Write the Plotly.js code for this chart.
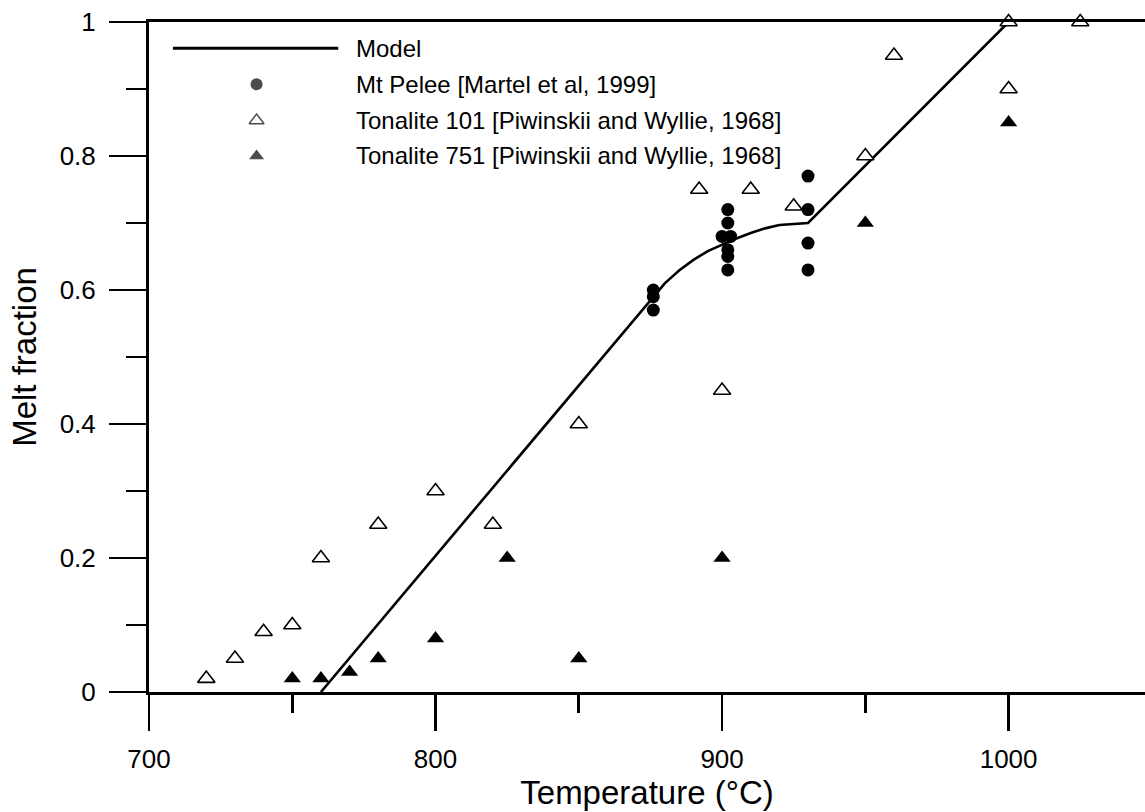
<!DOCTYPE html>
<html><head><meta charset="utf-8">
<script src="https://cdn.plot.ly/plotly-3.0.1.min.js"></script>
<style>html,body{margin:0;padding:0;background:#fff}</style>
</head><body><div id="chart" style="width:1145px;height:812px"></div>
<script>
// ---- data ----
const modelT = [760, 880, 885, 890, 895, 900, 905, 910, 915, 920, 925, 930, 1000];
const modelF = [0, 0.61, 0.629, 0.645, 0.658, 0.668, 0.677, 0.685, 0.692, 0.697, 0.699, 0.70, 1.0];

const peleeT = [876, 876, 876, 900, 902, 902, 903, 902, 902, 902, 930, 930, 930, 930];
const peleeF = [0.60, 0.59, 0.57, 0.68, 0.72, 0.70, 0.68, 0.66, 0.65, 0.63, 0.77, 0.72, 0.67, 0.63];

const ton101T = [720, 730, 740, 750, 760, 780, 800, 820, 850, 892, 900, 910, 925, 950, 960, 1000, 1000, 1025];
const ton101F = [0.02, 0.05, 0.09, 0.10, 0.20, 0.25, 0.30, 0.25, 0.40, 0.75, 0.45, 0.75, 0.725, 0.80, 0.95, 1.0, 0.90, 1.0];

const ton751T = [750, 760, 770, 780, 800, 825, 850, 900, 950, 1000];
const ton751F = [0.02, 0.02, 0.03, 0.05, 0.08, 0.20, 0.05, 0.20, 0.70, 0.85];

const seriesNames = ['Model', 'Mt Pelee [Martel et al, 1999]', 'Tonalite 101 [Piwinskii and Wyllie, 1968]', 'Tonalite 751 [Piwinskii and Wyllie, 1968]'];
const xTitle = 'Temperature (°C)';
const yTitle = 'Melt fraction';

// ---- styling ----
const FONT = 'Liberation Sans, Arial, Helvetica, sans-serif';
const BLACK = '#000';

const traces = [
  {x: modelT, y: modelF, mode: 'lines', line: {color: BLACK, width: 2.6}, name: seriesNames[0], showlegend: false, cliponaxis: false},
  {x: peleeT, y: peleeF, mode: 'markers', marker: {symbol: 'circle', size: 13, color: BLACK}, name: seriesNames[1], showlegend: false, cliponaxis: false},
  {x: ton101T, y: ton101F, mode: 'markers', marker: {symbol: 'triangle-up', size: 15, color: '#fff', line: {color: BLACK, width: 1.6}}, name: seriesNames[2], showlegend: false, cliponaxis: false},
  {x: ton751T, y: ton751F, mode: 'markers', marker: {symbol: 'triangle-up', size: 15, color: BLACK, line: {color: BLACK, width: 0}}, name: seriesNames[3], showlegend: false, cliponaxis: false}
];

// custom legend (long line sample, markers centred beneath it)
const legX = {line0: 0.024, line1: 0.190, sym: 0.108, text: 0.2058};
const legY = [0.961, 0.907, 0.853, 0.800];
traces.push({
  x: [legX.sym, legX.sym, legX.sym], y: [legY[1], legY[2], legY[3]],
  xaxis: 'x2', yaxis: 'y2', mode: 'markers', showlegend: false, hoverinfo: 'skip', cliponaxis: false,
  marker: {symbol: ['circle', 'triangle-up', 'triangle-up'], size: [12, 13, 13], color: [BLACK, '#fff', BLACK], line: {color: BLACK, width: [0, 1.4, 0]}}
});

const annotations = seriesNames.map((t, i) => ({
  xref: 'paper', yref: 'paper', x: legX.text, y: legY[i], xanchor: 'left', yanchor: 'middle',
  text: t, showarrow: false, font: {family: FONT, size: 24, color: BLACK}
}));

const layout = {
  width: 1145, height: 812,
  margin: {l: 149, r: 0, t: 22, b: 120},
  paper_bgcolor: '#fff', plot_bgcolor: '#fff',
  font: {family: FONT, color: BLACK},
  showlegend: false,
  xaxis: {
    range: [700, 1047.6], tick0: 700, dtick: 100, ticks: 'outside', ticklen: 36, tickwidth: 2.6, tickcolor: BLACK,
    showline: true, linewidth: 3, linecolor: BLACK, mirror: true, showgrid: false, zeroline: false,
    tickfont: {family: FONT, size: 26, color: BLACK}, ticklabelstandoff: 6,
    minor: {ticks: 'outside', ticklen: 18, tickwidth: 2.6, tickcolor: BLACK, dtick: 50, showgrid: false},
    title: {text: xTitle, font: {family: FONT, size: 33, color: BLACK}, standoff: 6},
    automargin: false
  },
  yaxis: {
    range: [0, 1], tick0: 0, dtick: 0.2, ticks: 'outside', ticklen: 37, tickwidth: 2.6, tickcolor: BLACK,
    showline: true, linewidth: 3, linecolor: BLACK, showgrid: false, zeroline: false,
    tickfont: {family: FONT, size: 26, color: BLACK}, ticklabelstandoff: 8,
    minor: {ticks: 'outside', ticklen: 20, tickwidth: 2.6, tickcolor: BLACK, dtick: 0.1, showgrid: false},
    title: {text: yTitle, font: {family: FONT, size: 33, color: BLACK}, standoff: 14},
    automargin: false
  },
  xaxis2: {overlaying: 'x', range: [0, 1], visible: false, anchor: 'y2'},
  yaxis2: {overlaying: 'y', range: [0, 1], visible: false, anchor: 'x2'},
  shapes: [{type: 'line', xref: 'paper', yref: 'paper', x0: legX.line0, x1: legX.line1, y0: legY[0], y1: legY[0], line: {color: BLACK, width: 3}}],
  annotations: annotations
};

Plotly.newPlot('chart', traces, layout, {displayModeBar: false, staticPlot: true});
</script>
</body></html>
